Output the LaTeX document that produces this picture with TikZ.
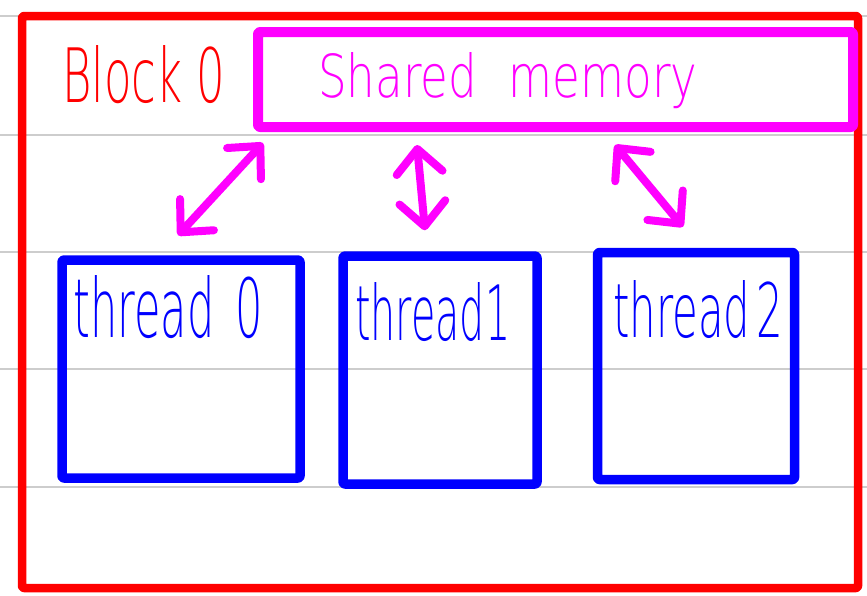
\documentclass[tikz,border=0pt]{standalone}
\usepackage{fontspec}
\newfontfamily\hand[Extension=.ttf]{DejaVuSans-ExtraLight}
\usetikzlibrary{arrows.meta}
\definecolor{penred}{RGB}{255,0,0}
\definecolor{penmag}{RGB}{255,0,255}
\definecolor{penblue}{RGB}{0,0,255}
\definecolor{rule}{RGB}{205,205,205}
\begin{document}
\begin{tikzpicture}[x=1pt,y=-1pt,line cap=round,line join=round,
  ruleline/.style={draw=rule,line width=2.5pt},
  blockbox/.style={draw=penred,line width=8.5pt,inner sep=0pt,rounded corners=2pt},
  membox/.style={draw=penmag,line width=10pt,inner sep=0pt,rounded corners=2pt},
  thrbox/.style={draw=penblue,line width=9.5pt,inner sep=0pt,rounded corners=2pt},
  lbl/.style={anchor=base west,inner sep=0pt},
  dbl/.style={draw=penmag,line width=8pt,
    arrows={Straight Barb[length=24pt,width=46pt,round]-Straight Barb[length=24pt,width=46pt,round]}}]
\useasboundingbox (0,0) rectangle (867,595);
\fill[white] (0,0) rectangle (867,595);
% ruled paper lines
\foreach \yy in {16,135,252,369,487}
  \draw[ruleline] (0,\yy) -- (867,\yy);
% boxes
\node[blockbox,minimum width=836pt,minimum height=572pt] (blk) at (440,302) {};
\node[membox,minimum width=595pt,minimum height=95pt] (sm) at (555.5,79.5) {};
\node[thrbox,minimum width=238pt,minimum height=218pt] (t0) at (181,369) {};
\node[thrbox,minimum width=194pt,minimum height=228pt] (t1) at (440,370) {};
\node[thrbox,minimum width=197pt,minimum height=227pt] (t2) at (696,366) {};
% labels
\node[lbl,text=penred] (blklbl) at (62,102) {\resizebox{163pt}{57pt}{\hand Block 0}};
\node[lbl,text=penmag] (smlbl) at (318,97) {\resizebox{379pt}{45pt}{\hand Shared\hspace{0.7em}memory}};
\node[lbl,text=penblue] (t0lbl) at (73,337) {\resizebox{190pt}{62pt}{\hand thread\hspace{0.5em}0}};
\node[lbl,text=penblue] (t1lbl) at (355,340) {\resizebox{155pt}{58pt}{\hand thread1}};
\node[lbl,text=penblue] (t2lbl) at (613,337) {\resizebox{170pt}{57pt}{\hand thread\hspace{0.15em}2}};
% arrows
\draw[dbl] ([xshift=10pt,yshift=-11pt]sm.south west) -- ([xshift=-3pt,yshift=20pt]t0.north);
\draw[dbl] ([xshift=164pt,yshift=-13pt]sm.south west) -- ([xshift=-15pt,yshift=21pt]t1.north);
\draw[dbl] ([xshift=362pt,yshift=-13pt]sm.south west) -- ([xshift=-13pt,yshift=21pt]t2.north);
\end{tikzpicture}
\end{document}
